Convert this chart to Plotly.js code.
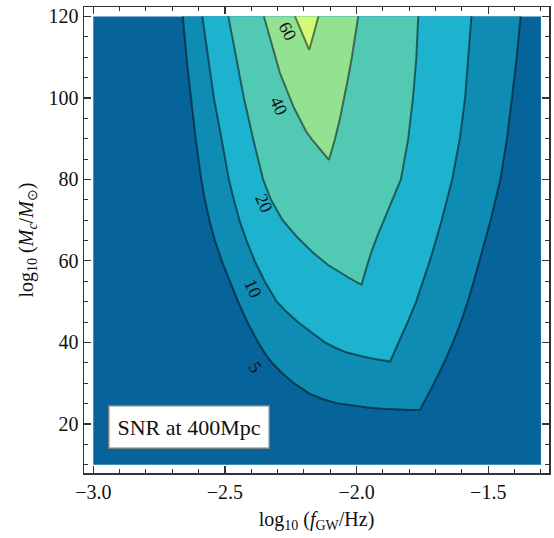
<!DOCTYPE html>
<html>
<head>
<meta charset="utf-8">
<script src="https://cdn.plot.ly/plotly-3.0.1.min.js"></script>
<style>
html,body{margin:0;padding:0;background:#fff;}
#chart{width:554px;height:538px;}
</style>
</head>
<body>
<div id="chart"></div>
<script>
// ---- data ----
const levels = [5, 10, 20, 40, 60];
const domainX = [-3.0, -1.3];
const domainY = [10, 120];

// SNR = 5 contour (left branch down, bottom, right branch up)
const snr5X = [-2.660,-2.646,-2.629,-2.611,-2.590,-2.576,-2.559,-2.538,-2.512,-2.482,-2.450,-2.415,-2.374,-2.350,-2.321,-2.283,-2.238,-2.180,-2.130,-2.075,-2.020,-1.960,-1.900,-1.840,-1.790,-1.759,-1.746,-1.706,-1.668,-1.634,-1.604,-1.578,-1.555,-1.534,-1.491,-1.454,-1.429,-1.410,-1.392,-1.377];
const snr5Y = [120,110,100,90,80,75,70,65,60,55,50,45,40,37.5,35,32.5,30,27.5,26.1,25.1,24.5,24.0,23.7,23.5,23.4,23.5,25,30,35,40,45,50,55,60,70,80,90,100,110,120];

// SNR = 10 contour
const snr10X = [-2.586,-2.563,-2.542,-2.513,-2.485,-2.466,-2.445,-2.418,-2.387,-2.349,-2.303,-2.266,-2.223,-2.172,-2.120,-2.075,-2.036,-1.980,-1.930,-1.873,-1.840,-1.806,-1.774,-1.747,-1.722,-1.699,-1.677,-1.637,-1.608,-1.588,-1.575,-1.564];
const snr10Y = [120,110,100,90,80,75,70,65,60,55,50,47.5,45,42.5,40,38.5,37.5,36.6,35.9,35.3,40,45,50,55,60,65,70,80,90,100,110,120];

// SNR = 20 contour
const snr20X = [-2.487,-2.457,-2.428,-2.393,-2.355,-2.325,-2.281,-2.228,-2.165,-2.108,-2.060,-2.020,-1.995,-1.981,-1.965,-1.945,-1.922,-1.896,-1.862,-1.832,-1.804,-1.786,-1.773,-1.766];
const snr20Y = [120,110,100,90,80,75,70,66,62,59,57,55.5,54.6,54.2,57.8,62,66,70,75,80,90,100,110,120];

// SNR = 40 contour
const snr40X = [-2.352,-2.309,-2.291,-2.253,-2.240,-2.192,-2.172,-2.105,-2.082,-2.063,-2.047,-2.032,-2.018,-1.994];
const snr40Y = [120,110,106.1,100,97.9,91.8,90,84.8,90,95,100,105,110,120];

// SNR = 60 contour
const snr60X = [-2.234,-2.201,-2.180,-2.166,-2.145];
const snr60Y = [120,115,111.8,115,120];

const xTickVals = [-3.0, -2.5, -2.0, -1.5];
const yTickVals = [20, 40, 60, 80, 100, 120];
const boxText = 'SNR at 400Mpc';

// ---- styles ----
const fillColors = ['#07649a', '#0e8cb4', '#1db2cd', '#52c9b2', '#92e292', '#d2fa78'];
const lineColor = 'rgba(0,0,0,0.5)';
const serif = 'Liberation Serif, Times New Roman, serif';

const contours = [
  [snr5X, snr5Y], [snr10X, snr10Y], [snr20X, snr20Y], [snr40X, snr40Y], [snr60X, snr60Y]
];

const traces = [];
// base region (below 5)
traces.push({
  type: 'scatter', mode: 'lines',
  x: [domainX[0], domainX[1], domainX[1], domainX[0]],
  y: [domainY[0], domainY[0], domainY[1], domainY[1]],
  fill: 'toself', fillcolor: fillColors[0],
  line: {width: 0}, hoverinfo: 'skip'
});
contours.forEach((c, i) => {
  traces.push({
    type: 'scatter', mode: 'lines', x: c[0], y: c[1],
    fill: 'toself', fillcolor: fillColors[i + 1],
    line: {width: 0}, hoverinfo: 'skip', name: 'SNR>' + levels[i]
  });
});
contours.forEach((c, i) => {
  traces.push({
    type: 'scatter', mode: 'lines', x: c[0], y: c[1],
    line: {color: lineColor, width: 2}, hoverinfo: 'skip', name: 'SNR=' + levels[i]
  });
});

// contour label positions / angles
const labelPos = [
  {x: -2.385, y: 34.0, a: 55},
  {x: -2.392, y: 53.2, a: 65},
  {x: -2.352, y: 74.2, a: 65},
  {x: -2.295, y: 98.1, a: 65},
  {x: -2.264, y: 116.3, a: 62}
];
const annotations = labelPos.map((p, i) => ({
  x: p.x, y: p.y, xref: 'x', yref: 'y', text: String(levels[i]),
  showarrow: false, textangle: p.a,
  font: {family: serif, size: 18, color: '#111'}
}));
annotations.push({
  x: -2.636, y: 19.2, xref: 'x', yref: 'y', text: boxText, showarrow: false,
  bgcolor: 'white', bordercolor: '#808080', borderwidth: 1.5, borderpad: 8,
  font: {family: serif, size: 22, color: '#111'}
});

const axisCommon = {
  showline: true, linecolor: '#333', linewidth: 1.5, mirror: 'allticks',
  ticks: 'inside', ticklen: 7, tickwidth: 1.2, tickcolor: '#333',
  showgrid: false, zeroline: false,
  tickfont: {family: serif, size: 20, color: '#111'}
};

const layout = {
  width: 554, height: 538,
  margin: {l: 84, r: 5, t: 7, b: 65, pad: 0},
  paper_bgcolor: 'white', plot_bgcolor: 'white',
  showlegend: false,
  xaxis: Object.assign({}, axisCommon, {
    range: [-3.0353, -1.2693], tickvals: xTickVals, tickformat: '.1f',
    minor: {dtick: 0.1, tick0: -3, ticks: 'inside', ticklen: 4, tickwidth: 1, tickcolor: '#333'},
    title: {text: 'log<sub>10</sub> (<i>f</i><sub>GW</sub>/Hz)', font: {family: serif, size: 20, color: '#111'}, standoff: 10}
  }),
  yaxis: Object.assign({}, axisCommon, {
    range: [7.95, 122.31], tickvals: yTickVals,
    minor: {dtick: 5, tick0: 0, ticks: 'inside', ticklen: 4, tickwidth: 1, tickcolor: '#333'},
    title: {text: 'log<sub>10</sub> (<i>M<sub>c</sub></i>/<i>M</i><sub>⊙</sub>)', font: {family: serif, size: 20, color: '#111'}, standoff: 9}
  }),
  annotations: annotations
};

Plotly.newPlot('chart', traces, layout, {displayModeBar: false, staticPlot: true});
</script>
</body>
</html>
